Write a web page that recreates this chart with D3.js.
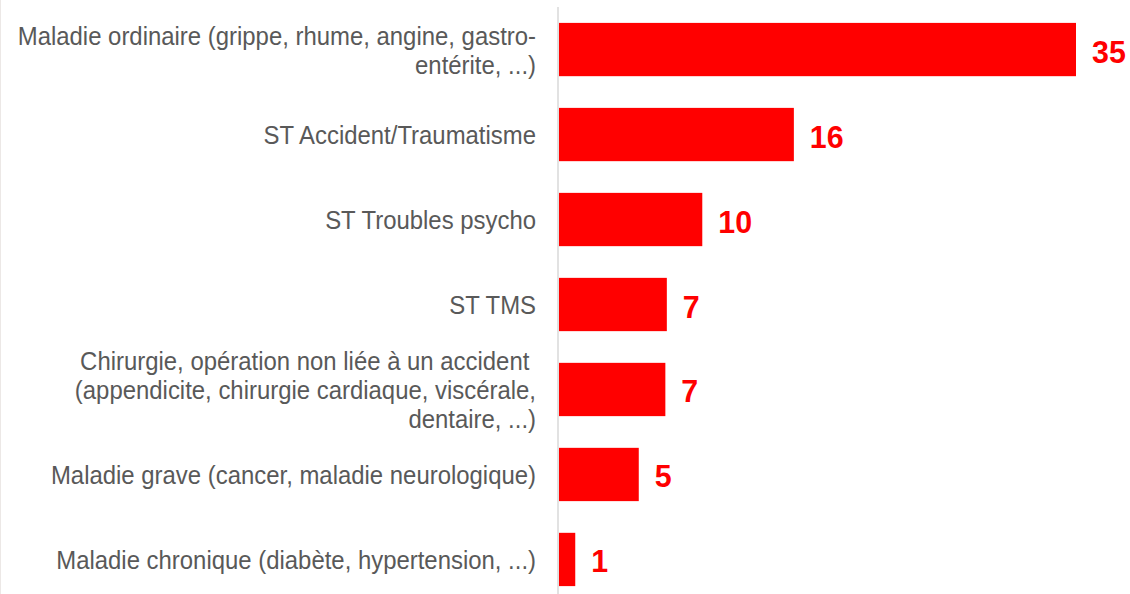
<!DOCTYPE html>
<html>
<head>
<meta charset="utf-8">
<script src="https://cdn.jsdelivr.net/npm/d3@7"></script>
<style>
  html, body { margin: 0; padding: 0; background: #fff; }
  svg { display: block; }
</style>
</head>
<body>
<svg id="chart"></svg>
<script>
// categories (one entry per bar, split into the lines shown in the picture)
const categories = [
    ['Maladie ordinaire (grippe, rhume, angine, gastro-', 'entérite, ...)'],
    ['ST Accident/Traumatisme'],
    ['ST Troubles psycho'],
    ['ST TMS'],
    ['Chirurgie, opération non liée à un accident ', '(appendicite, chirurgie cardiaque, viscérale,', 'dentaire, ...)'],
    ['Maladie grave (cancer, maladie neurologique)'],
    ['Maladie chronique (diabète, hypertension, ...)']
];

// values (labels are shown rounded)
const values = [35, 15.9, 9.7, 7.3, 7.2, 5.4, 1.1];

const width = 1130;
const height = 594;

const svg = d3.select('#chart')
    .attr('width', width)
    .attr('height', height);

// scales
const y = d3.scaleBand()
    .domain(d3.range(values.length))
    .range([7, 602])
    .paddingInner(0.373)
    .paddingOuter(0.187);

const x = d3.scaleLinear()
    .domain([0, 35])
    .range([559, 1076]);

// faint slide border on the left edge
svg.append('line')
    .attr('x1', 0.5).attr('x2', 0.5)
    .attr('y1', 0).attr('y2', height)
    .attr('stroke', '#ece8e6')
    .attr('stroke-width', 1);

// bars
svg.selectAll('.bar')
    .data(values)
    .join('rect')
    .attr('class', 'bar')
    .attr('x', x(0))
    .attr('y', (d, i) => y(i))
    .attr('width', d => x(d) - x(0))
    .attr('height', y.bandwidth())
    .attr('fill', '#ff0000');

// vertical category axis line
svg.append('line')
    .attr('x1', 558).attr('x2', 558)
    .attr('y1', y.range()[0])
    .attr('y2', height)
    .attr('stroke', '#d9d9d9')
    .attr('stroke-width', 1.5);

// value labels
svg.selectAll('.value-label')
    .data(values)
    .join('text')
    .attr('class', 'value-label')
    .attr('transform', (d, i) => `translate(${x(d) + 16},${y(i) + y.bandwidth() / 2 + 13}) scale(0.95,1)`)
    .attr('font-family', '"Liberation Sans", Arial, sans-serif')
    .attr('font-weight', 'bold')
    .attr('font-size', 32)
    .attr('fill', '#ff0000')
    .text(d => d3.format('.0f')(d));

// category labels, right aligned next to the axis
const lineHeight = 29;
const catLabels = svg.selectAll('.cat-label')
    .data(categories)
    .join('text')
    .attr('class', 'cat-label')
    .attr('xml:space', 'preserve')
    .attr('transform', (d, i) => {
        const cy = y(i) + y.bandwidth() / 2 + 9.5 - (d.length - 1) * lineHeight / 2;
        return `translate(536,${cy}) scale(0.92,1)`;
    })
    .attr('text-anchor', 'end')
    .attr('font-family', '"Liberation Sans", Arial, sans-serif')
    .attr('font-size', 26)
    .attr('fill', '#595959');

catLabels.selectAll('tspan')
    .data(d => d)
    .join('tspan')
    .attr('x', 0)
    .attr('y', (d, j) => j * lineHeight)
    .text(d => d);
</script>
</body>
</html>
